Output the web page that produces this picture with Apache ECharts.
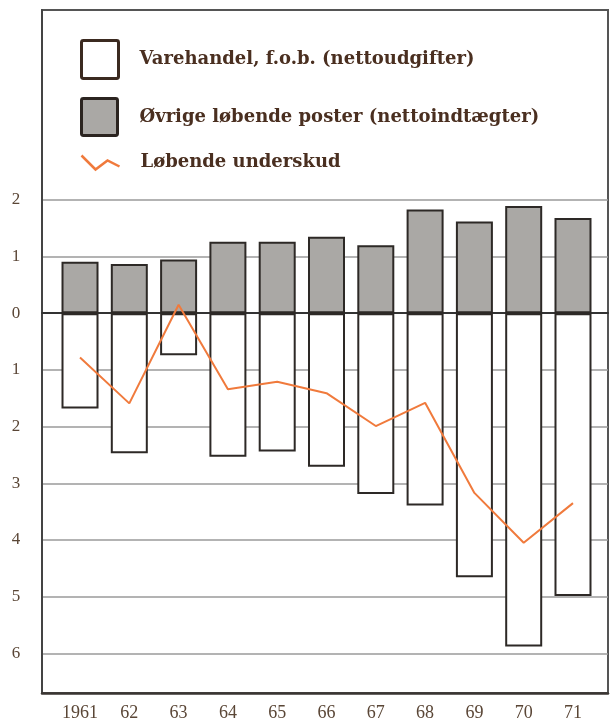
<!DOCTYPE html>
<html>
<head>
<meta charset="utf-8">
<script src="https://cdn.jsdelivr.net/npm/echarts@6/dist/echarts.min.js"></script>
<style>
html,body{margin:0;padding:0;background:#fff;}
#chart{width:610px;height:727px;}
</style>
</head>
<body>
<div id="chart"></div>
<script>
// ---- data ----
const categories = ['1961','62','63','64','65','66','67','68','69','70','71'];
const seriesNames = ['Varehandel, f.o.b. (nettoudgifter)', 'Øvrige løbende poster (nettoindtægter)', 'Løbende underskud'];
// net goods trade (expenses, negative) in mia. kr.
const varehandel = [-1.68,-2.47,-0.74,-2.53,-2.44,-2.71,-3.19,-3.39,-4.66,-5.88,-4.99];
// other current items (net income, positive)
const ovrige = [0.91,0.87,0.95,1.26,1.26,1.35,1.20,1.83,1.62,1.89,1.68];
// current deficit
const underskud = [-0.78,-1.59,0.15,-1.34,-1.21,-1.41,-1.99,-1.58,-3.17,-4.05,-3.35];
const yTickValues = [-6,-5,-4,-3,-2,-1,0,1,2];
const yTickLabels = ['6','5','4','3','2','1','0','1','2'];

const catIdx = categories.map((c,i)=>i);
const pairs = arr => arr.map((v,i)=>[i,v]);

const labelColor = '#5a4636';
const textColor = '#4a2f20';
const frameColor = '#555';
const barBorder = '#2d2926';

const chart = echarts.init(document.getElementById('chart'), null, {renderer:'canvas'});

const legendText = {fontFamily:'DejaVu Serif', fontWeight:'bold', fontSize:18, color:textColor};
const boxIcon = 'path://M2,0 L37,0 Q39,0 39,2 L39,38 Q39,40 37,40 L2,40 Q0,40 0,38 L0,2 Q0,0 2,0 Z';

chart.setOption({
  animation:false,
  backgroundColor:'#fff',
  grid:{left:42, right:2, top:10, bottom:34, show:true, borderColor:frameColor, borderWidth:2, containLabel:false},
  legend:[
    {left:80, top:39, padding:0, orient:'vertical', selectedMode:false, itemWidth:37, itemHeight:38,
     textStyle:Object.assign({padding:[0,0,0,16]}, legendText),
     data:[{name:seriesNames[0], icon:boxIcon, itemStyle:{color:'#fff', borderColor:'#3b2a20', borderWidth:3}}]},
    {left:80, top:97, padding:0, orient:'vertical', selectedMode:false, itemWidth:36, itemHeight:37,
     textStyle:Object.assign({padding:[0,0,0,17]}, legendText),
     data:[{name:seriesNames[1], icon:boxIcon, itemStyle:{color:'#aaa8a5', borderColor:'#2b2420', borderWidth:3}}]},
    {left:79, top:153, padding:0, orient:'vertical', selectedMode:false, itemWidth:38, itemHeight:14,
     textStyle:Object.assign({padding:[0,0,0,16]}, legendText),
     data:[{name:seriesNames[2], icon:'path://M0,0 L14,14 L26,5 L38,11', itemStyle:{color:'none', borderColor:'#f07a3c', borderWidth:2.5}}]}
  ],
  xAxis:[
    {type:'value', min:-0.771, max:10.71, position:'bottom',
     axisLine:{show:true, onZero:false, lineStyle:{color:'#3a3532', width:2.5}},
     axisTick:{show:false, customValues:catIdx},
     splitLine:{show:false},
     axisLabel:{customValues:catIdx, margin:11, fontFamily:'Liberation Serif', fontSize:18, color:labelColor,
                formatter:v=>categories[Math.round(v)]}},
    {type:'value', min:-0.771, max:10.71, position:'top',
     axisLine:{show:true, onZero:true, lineStyle:{color:'#333', width:2}},
     axisTick:{show:false}, axisLabel:{show:false}, splitLine:{show:false}}
  ],
  yAxis:{type:'value', min:-6.70, max:5.35,
     axisLine:{show:true, onZero:false, lineStyle:{color:'#444', width:2}},
     axisTick:{show:false, customValues:yTickValues},
     axisLabel:{customValues:yTickValues, margin:26, align:'center', fontFamily:'Liberation Serif', fontSize:17, color:labelColor,
                formatter:v=>yTickLabels[yTickValues.indexOf(Math.round(v))]},
     splitLine:{show:true, lineStyle:{color:'#9a9a9a', width:1.5}}},
  series:[
    {name:seriesNames[0], type:'bar', stack:'bal', data:pairs(varehandel), barWidth:37,
     itemStyle:{color:'#fff', borderColor:barBorder, borderWidth:2}, z:2},
    {name:seriesNames[1], type:'bar', stack:'bal', data:pairs(ovrige), barWidth:37,
     itemStyle:{color:'#aaa8a5', borderColor:barBorder, borderWidth:2}, z:2},
    {name:seriesNames[2], type:'line', data:pairs(underskud), symbol:'none',
     lineStyle:{color:'#f07a3c', width:2}, itemStyle:{color:'#f07a3c'}, z:4}
  ]
});
</script>
</body>
</html>
